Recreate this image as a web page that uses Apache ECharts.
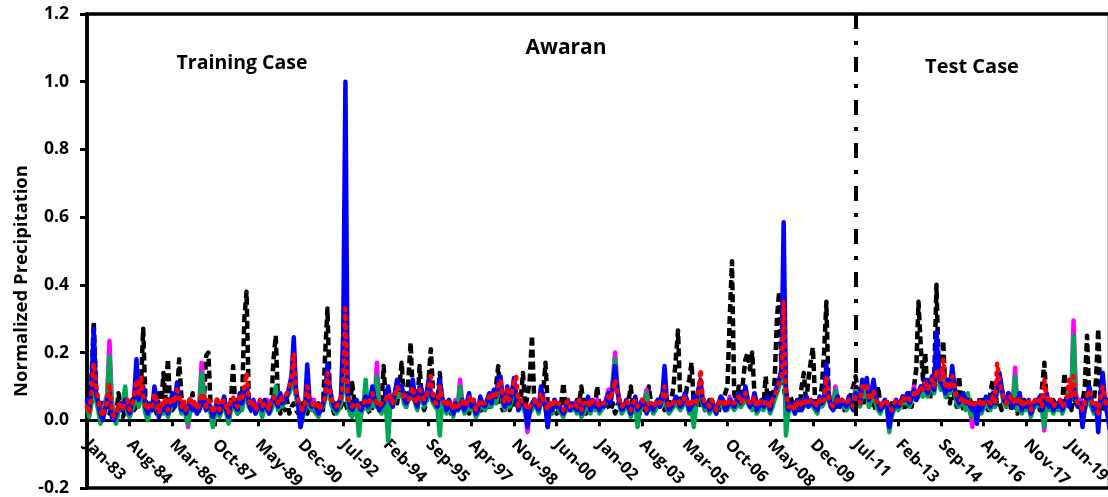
<!DOCTYPE html>
<html>
<head>
<meta charset="utf-8">
<script src="https://cdn.jsdelivr.net/npm/echarts@6/dist/echarts.min.js"></script>
<style>
html,body{margin:0;padding:0;background:#fff;}
#chart{width:1108px;height:497px;}
</style>
</head>
<body>
<div id="chart"></div>
<script>
// ---- tick labels / categories ----
const monthNames = ['Jan','Feb','Mar','Apr','May','Jun','Jul','Aug','Sep','Oct','Nov','Dec'];
const years = ['83','84','85','86','87','88','89','90','91','92','93','94','95','96','97','98','99','00','01','02','03','04','05','06','07','08','09','10','11','12','13','14','15','16','17','18','19','20'];
const yTicks = [-0.2, 0.0, 0.2, 0.4, 0.6, 0.8, 1.0, 1.2];
const splitCategory = 'Jul-11';

// ---- series values (one row per year, Jan..Dec) ----
const observed = [
.05,.03,.12,.29,.10,.04,.02,.06,.03,.05,.02,.04,
.03,.02,.08,.04,.01,.03,.05,.02,.06,.03,.04,.05,
.10,.27,.06,.02,.04,.03,.05,.02,.08,.04,.14,.06,
.18,.05,.03,.04,.06,.18,.07,.03,.02,.05,.04,.08,
.03,.04,.02,.06,.05,.19,.20,.04,.02,.03,.05,.02,
.04,.07,.03,.02,.05,.16,.04,.02,.03,.05,.30,.38,
.06,.03,.02,.04,.05,.03,.02,.06,.04,.03,.05,.18,
.25,.05,.02,.04,.03,.06,.02,.04,.05,.03,.02,.04,
.05,.03,.02,.04,.06,.03,.02,.05,.04,.03,.20,.33,
.08,.04,.02,.05,.03,.04,.06,.05,.03,.04,.11,.05,
.03,.02,.05,.04,.06,.03,.02,.04,.05,.07,.03,.04,
.16,.05,.03,.06,.04,.08,.05,.10,.17,.06,.04,.12,
.23,.07,.05,.04,.16,.06,.03,.05,.12,.21,.08,.04,
.06,.14,.05,.03,.04,.06,.02,.04,.05,.03,.08,.04,
.03,.05,.02,.04,.06,.03,.05,.04,.02,.03,.05,.04,
.06,.08,.10,.16,.05,.03,.04,.06,.03,.05,.04,.07,
.05,.06,.14,.04,.07,.12,.25,.06,.04,.03,.05,.08,
.17,.05,.03,.04,.06,.02,.03,.05,.11,.04,.03,.05,
.04,.03,.06,.05,.10,.04,.02,.03,.04,.05,.03,.10,
.04,.03,.05,.06,.04,.03,.05,.02,.04,.06,.03,.05,
.04,.06,.10,.03,.05,.04,.02,.06,.03,.04,.10,.05,
.03,.05,.04,.06,.08,.03,.05,.04,.06,.10,.18,.265,
.06,.04,.05,.10,.12,.17,.05,.03,.04,.06,.05,.03,
.04,.06,.03,.05,.04,.02,.06,.05,.08,.10,.30,.47,
.08,.05,.10,.04,.12,.18,.20,.15,.20,.08,.05,.04,
.06,.04,.13,.05,.08,.04,.12,.30,.38,.15,.10,.06,
.03,.07,.05,.04,.06,.03,.10,.14,.05,.12,.17,.215,
.06,.04,.05,.10,.20,.35,.08,.04,.06,.05,.03,.04,
.05,.03,.06,.04,.08,.10,.13,.09,.05,.04,.06,.10,
.04,.06,.05,.03,.10,.05,.04,.03,.06,.04,.05,.03,
.06,.04,.05,.07,.03,.05,.08,.04,.10,.15,.35,.22,
.12,.20,.08,.06,.10,.12,.40,.15,.10,.235,.08,.06,
.05,.10,.07,.04,.13,.06,.03,.05,.04,.06,.03,.05,
.04,.03,.06,.05,.04,.03,.08,.12,.04,.06,.05,.03,
.06,.04,.05,.03,.06,.04,.02,.05,.03,.06,.04,.05,
.03,.05,.04,.06,.03,.10,.17,.05,.04,.03,.06,.04,
.05,.03,.06,.14,.05,.04,.03,.08,.05,.04,.06,.05,
.10,.25,.06,.04,.05,.12,.27,.05,.04,.03,.06,.04
];
const modelMagenta = [
.05,.02,.06,.12,.07,.04,.01,.03,.05,.08,.235,.06,
.02,.00,.03,.05,.04,.06,.03,.02,.04,.06,.10,.05,
.10,.07,.03,.01,.04,.03,.06,.05,.02,.04,.03,.05,
.02,.04,.06,.05,.08,.06,.03,.05,.02,-.02,.05,.04,
.04,.03,.05,.17,.08,.04,.05,.03,.01,.03,.05,.02,
.04,.05,.03,.00,.04,.06,.04,.03,.06,.04,.08,.10,
.05,.04,.06,.03,.05,.04,.02,.05,.06,.03,.04,.06,
.07,.04,.06,.05,.07,.08,.09,.12,.18,.08,.05,.03,
.02,.04,.08,.05,.04,.06,.03,.02,.04,.05,.07,.12,
.09,.05,.04,.03,.04,.06,.10,.30,.06,.03,.02,.05,
.04,.03,.02,.04,.06,.04,.05,.06,.05,.17,.04,.03,
.05,.06,-.02,.06,.05,.07,.09,.08,.10,.06,.05,.07,
.08,.10,.06,.04,.09,.08,.05,.07,.10,.08,.06,.05,
.04,.09,.06,.05,.03,.05,.04,.02,.06,.04,.12,.05,
.03,.04,.07,.04,.05,.02,.03,.06,.05,.04,.05,.07,
.05,.08,.06,.10,.11,.06,.04,.09,.05,.07,.11,.08,
.04,.05,.05,.03,-.035,.03,.04,.06,.05,.03,.09,.07,
.05,.03,.04,.03,.06,.05,.04,.03,.02,.04,.05,.04,
.04,.05,.03,.06,.02,.03,.05,.06,.03,.05,.04,.06,
.03,.04,.05,.06,.09,.07,.12,.20,.10,.05,.03,.04,
.05,.04,.02,.05,.06,.03,.04,.05,.06,.09,.04,.05,
.03,.04,.06,.05,.06,.10,.05,.03,.04,.05,.06,.05,
.04,.05,.07,.06,.03,.05,.06,.05,.08,.10,.06,.04,
.05,.03,.05,.04,.03,.05,.06,.05,.04,.04,.07,.05,
.04,.05,.07,.05,.06,.09,.06,.05,.04,.07,.03,.04,
.05,.04,.05,.06,.03,.05,.07,.09,.11,.14,.30,.08,
.03,.04,.05,.03,.05,.06,.04,.05,.06,.05,.06,.05,
.04,.03,.06,.05,.06,.12,.07,.05,.04,.10,.07,.05,
.06,.05,.04,.06,.05,.04,.10,.06,.05,.09,.08,.10,
.05,.07,.09,.06,.04,.03,.05,.06,.04,.03,.02,.04,
.05,.04,.05,.07,.06,.07,.05,.07,.10,.07,.08,.09,
.08,.11,.08,.10,.12,.09,.20,.12,.10,.14,.08,.11,
.09,.13,.10,.06,.05,.06,.07,.04,.05,.03,-.02,.05,
.04,.05,.03,.05,.06,.05,.04,.07,.05,.12,.13,.09,
.06,.05,.08,.07,.05,.155,.04,.08,.03,.05,.04,.06,
.02,.04,.06,.05,.07,.04,-.03,.08,.04,.06,.03,.05,
.04,.05,.03,.05,.06,.10,.07,.295,.08,.05,.06,.02,
.04,.06,.09,.05,.03,.05,.02,.06,.10,.06,.03,.01
];
const modelGreen = [
.04,.01,.05,.08,.06,.03,-.01,.02,.04,.07,.19,.05,
.01,-.01,.03,.04,.05,.10,.02,.01,.03,.05,.08,.04,
.08,.06,.02,.00,.03,.04,.05,.04,.01,.03,.02,.04,
.01,.03,.05,.04,.07,.05,.02,.04,.01,-.01,.04,.03,
.03,.02,.04,.14,.07,.03,.04,.02,-.02,.02,.04,.01,
.03,.04,.02,-.01,.03,.05,.03,.02,.05,.03,.07,.08,
.04,.03,.05,.02,.04,.03,.01,.04,.05,.02,.03,.05,
.10,.03,.05,.04,.06,.07,.08,.10,.12,.07,.04,-.02,
.01,.03,.07,.04,.03,.05,.02,.01,.03,.04,.06,.10,
.08,.04,.03,.02,.03,.05,.09,.25,.05,.02,.01,.04,
.03,-.045,.02,.04,.12,.03,.04,.05,.04,.13,.03,.02,
.04,.05,-.06,.05,.04,.06,.08,.07,.10,.05,.04,.06,
.07,.09,.05,.03,.08,.07,.04,.06,.09,.07,.05,.04,
.03,-.045,.05,.04,.02,.04,.03,.01,.05,.03,.10,.04,
.02,.03,.06,.03,.04,.01,.02,.05,.04,.03,.04,.06,
.04,.07,.05,.09,.10,.05,.03,.08,.04,.06,.10,.07,
.03,.04,.04,.02,.00,.02,.03,.05,.04,.02,.08,.06,
.04,-.02,.03,.02,.05,.04,.03,.02,.01,.03,.04,.03,
.03,.04,.02,.05,.01,.02,.04,.05,.02,.04,.03,.05,
.02,.03,.04,.05,.08,.06,.11,.18,.09,.04,.02,.03,
.04,.03,.01,.04,.05,-.02,.03,.04,.05,.08,.03,.04,
.02,.03,.05,.04,.05,.09,.04,.02,.03,.04,.05,.04,
.03,.04,.06,.05,.02,.04,-.02,.04,.07,.09,.05,.03,
.04,.02,.04,.03,.02,.04,.05,.04,.03,.03,.06,.04,
.03,.04,.06,.04,.05,.08,.05,.04,.03,.06,.02,.03,
.04,.03,.04,.05,.02,.04,.06,.08,.10,.13,.28,-.045,
.02,.03,.04,.02,.04,.05,.03,.04,.05,.04,.05,.04,
.03,.02,.05,.04,.05,.10,.06,.04,.03,.09,.06,.04,
.05,.04,.03,.05,.04,.03,.09,.05,.04,.08,.07,.09,
.04,.06,.08,.05,.03,.02,.04,.05,.03,-.035,.01,.03,
.04,.03,.04,.06,.05,.06,.04,.06,.09,.06,.07,.08,
.07,.10,.07,.09,.11,.08,.18,.11,.09,.12,.07,.10,
.08,.12,.09,.05,.04,.05,.06,.03,.08,.02,.01,.04,
.03,.04,.02,.04,.05,.04,.03,.06,.04,.10,.11,.08,
.05,.04,.07,.06,.04,.13,.03,.07,.02,.04,.03,.05,
.01,.03,.05,.04,.06,.03,-.02,.07,.03,.05,.02,.04,
.03,.04,.02,.04,.05,.09,.06,.25,.07,.04,.05,.01,
.03,.05,.08,.04,.02,.04,.01,.05,.08,.05,.02,.00
];
const modelBlue = [
.06,.03,.10,.27,.08,.05,.02,.00,.03,.06,.08,.01,
.00,.02,.04,.05,.03,.06,.04,.02,.05,.07,.18,.06,
.08,.10,.04,.02,.05,.03,.10,.06,.01,.04,.03,.06,
.02,.05,.08,.04,.11,.07,.03,.05,.02,.04,.06,.03,
.05,.02,.04,.07,.06,.03,.05,.04,.01,.03,.06,.02,
.04,.07,.03,.01,.05,.06,.04,.03,.08,.05,.09,.10,
.05,.03,.06,.02,.04,.05,.03,.06,.04,.02,.05,.07,
.06,.04,.08,.05,.06,.07,.10,.13,.245,.09,.05,-.02,
.02,.04,.165,.06,.04,.05,.04,.02,.03,.05,.08,.165,
.10,.06,.04,.03,.05,.07,.25,1.0,.08,.04,.03,.05,
.06,.04,.03,.05,.07,.04,.06,.10,.06,.05,.03,.04,
.05,.07,.10,.06,.04,.08,.12,.09,.10,.07,.05,.06,
.08,.12,.06,.04,.10,.09,.05,.07,.12,.08,.06,.05,
.04,.12,.07,.05,.03,.06,.04,.02,.05,.03,.04,.06,
.03,.05,.08,.04,.06,.02,.03,.07,.05,.04,.06,.08,
.05,.09,.07,.12,.13,.06,.04,.10,.05,.08,.125,.07,
.03,.06,.05,.04,-.02,.03,.05,.06,.04,.03,.10,.06,
.04,-.02,.05,.03,.06,.04,.05,.03,.02,.04,.06,.03,
.05,.04,.03,.06,.02,.04,.05,.07,.03,.06,.04,.05,
.03,.05,.04,.06,.08,.05,.10,.16,.09,.05,.03,.04,
.06,.04,.02,.05,.07,.03,.04,.06,.05,.02,.04,.05,
.03,.05,.06,.04,.07,.16,.06,.03,.04,.05,.07,.06,
.04,.05,.08,.06,.03,.04,.07,.05,.09,.12,.06,.04,
.05,.03,.06,.04,.02,.05,.07,.06,.03,.04,.06,.05,
.04,.06,.08,.05,.07,.10,.06,.04,.05,.08,.03,.04,
.06,.04,.05,.07,.03,.06,.08,.10,.12,.15,.585,.10,
.03,.04,.05,.02,.04,.06,.03,.05,.07,.04,.06,.05,
.04,.03,.07,.05,.06,.165,.08,.04,.03,.05,.07,.04,
.06,.05,.04,.07,.05,.03,.08,.06,.05,.12,.10,.125,
.06,.08,.12,.07,.05,.03,.04,.06,.05,-.02,.02,.04,
.06,.04,.05,.07,.06,.08,.05,.07,.09,.06,.08,.10,
.09,.12,.08,.10,.13,.09,.26,.14,.11,.10,.08,.12,
.09,.16,.10,.07,.05,.06,.08,.05,.06,.04,.03,.05,
-.01,.06,.03,.05,.07,.06,.04,.08,.05,.09,.14,.10,
.06,.05,.08,.07,.04,.06,.05,.08,.03,.05,.04,.06,
.02,.04,.06,.05,.07,.03,.05,.08,.04,.06,.03,.05,
.04,.06,.03,.05,.07,.04,.08,.10,.06,.04,.05,-.02,
.04,.07,.10,.06,.03,.05,-.035,.08,.14,.05,.02,-.025
];
const modelRed = [
.04,.02,.08,.17,.10,.06,.03,.01,.04,.05,.11,.03,
.01,.02,.05,.04,.03,.05,.06,.03,.04,.08,.12,.07,
.13,.07,.04,.03,.05,.04,.08,.06,.02,.05,.04,.07,
.03,.06,.07,.05,.09,.08,.04,.06,.03,.05,.07,.04,
.06,.03,.05,.08,.07,.04,.06,.05,.02,.04,.07,.03,
.05,.06,.04,.02,.06,.07,.05,.04,.07,.06,.10,.14,
.06,.04,.05,.03,.05,.06,.04,.05,.05,.03,.06,.07,
.05,.05,.07,.06,.07,.08,.10,.12,.20,.09,.06,.04,
.03,.05,.10,.06,.05,.04,.05,.03,.04,.05,.07,.14,
.09,.06,.05,.04,.05,.07,.12,.33,.07,.05,.04,.05,
.05,.04,.04,.05,.06,.05,.06,.08,.06,.05,.04,.05,
.05,.06,.08,.07,.05,.07,.10,.09,.08,.07,.06,.06,
.07,.10,.06,.05,.09,.08,.06,.07,.10,.13,.07,.05,
.05,.10,.07,.05,.04,.06,.05,.03,.05,.04,.05,.06,
.04,.05,.07,.05,.06,.03,.04,.06,.05,.05,.06,.07,
.06,.08,.07,.10,.12,.07,.05,.09,.06,.08,.12,.13,
.04,.06,.05,.05,.03,.04,.05,.06,.05,.04,.08,.06,
.05,.03,.05,.04,.06,.05,.05,.04,.03,.05,.06,.04,
.05,.05,.04,.06,.03,.05,.05,.06,.04,.06,.05,.05,
.04,.05,.05,.06,.07,.06,.09,.12,.08,.06,.04,.05,
.06,.05,.03,.05,.06,.04,.05,.06,.05,.03,.05,.05,
.04,.05,.06,.05,.06,.10,.06,.04,.05,.05,.06,.06,
.05,.05,.07,.06,.04,.05,.06,.05,.08,.15,.07,.05,
.05,.04,.06,.05,.03,.05,.06,.06,.04,.05,.06,.05,
.05,.06,.07,.05,.06,.08,.06,.05,.05,.07,.04,.05,
.06,.05,.05,.06,.04,.06,.07,.09,.11,.13,.35,.09,
.04,.04,.05,.03,.05,.06,.04,.05,.06,.05,.06,.05,
.05,.04,.06,.05,.06,.13,.07,.05,.04,.05,.06,.05,
.06,.05,.05,.06,.05,.04,.07,.06,.05,.10,.09,.10,
.06,.07,.09,.06,.05,.04,.05,.06,.05,.04,.03,.05,
.06,.05,.05,.07,.06,.07,.06,.07,.08,.07,.09,.10,
.09,.11,.09,.10,.12,.10,.15,.13,.12,.18,.10,.11,
.09,.13,.10,.07,.06,.06,.07,.05,.06,.05,.04,.05,
.05,.06,.04,.05,.06,.06,.05,.07,.05,.17,.12,.09,
.06,.05,.07,.07,.05,.06,.05,.07,.04,.05,.05,.06,
.03,.05,.06,.05,.06,.04,.12,.07,.05,.06,.04,.05,
.05,.06,.04,.05,.06,.12,.07,.13,.06,.05,.05,.03,
.05,.07,.09,.06,.04,.05,.02,.07,.10,.06,.04,.03
];

// ---- build categories ----
const categories = [];
years.forEach(y => monthNames.forEach(m => categories.push(m + '-' + y)));

const FONT = '"Open Sans"';
const GRID_TOP = 14, GRID_BOTTOM = 9, CHART_H = 497;
const plotH = CHART_H - GRID_TOP - GRID_BOTTOM;
const yMin = yTicks[0], yMax = yTicks[yTicks.length - 1];
// shift the x axis (line, ticks, labels) from the grid bottom up to y = 0
const zeroOffset = -plotH * (0 - yMin) / (yMax - yMin);

const chart = echarts.init(document.getElementById('chart'), null, {renderer: 'canvas'});

function lineSeries(name, data, color, type, width, cap) {
  return {
    name: name, type: 'line', data: data, symbol: 'none', showSymbol: false,
    lineStyle: {color: color, width: width, type: type, cap: cap || 'round', join: 'round'},
    itemStyle: {color: color}, z: 2, animation: false
  };
}

const option = {
  animation: false,
  backgroundColor: '#ffffff',
  grid: {left: 87, top: GRID_TOP, bottom: GRID_BOTTOM, right: -1.5, containLabel: false, outerBoundsMode: 'none',
    show: true, borderColor: '#000', borderWidth: 3.5, backgroundColor: 'transparent'},
  xAxis: {
    type: 'category', data: categories, boundaryGap: false, offset: zeroOffset,
    axisLine: {onZero: false, lineStyle: {color: '#000', width: 3}},
    axisTick: {show: true, interval: 18, length: 6, lineStyle: {color: '#000', width: 3}},
    axisLabel: {interval: 18, rotate: -45, margin: 22, color: '#000', fontFamily: FONT, fontWeight: 'bold', fontSize: 16.5},
    splitLine: {show: false}
  },
  yAxis: {
    type: 'value', min: yMin, max: yMax, interval: 0.2,
    axisLine: {show: true, lineStyle: {color: '#000', width: 3.5}},
    axisTick: {show: true, length: 7, lineStyle: {color: '#000', width: 3}},
    axisLabel: {margin: 18, color: '#000', fontFamily: FONT, fontWeight: 'bold', fontSize: 17.5,
      formatter: v => v.toFixed(1)},
    splitLine: {show: false}
  },
  graphic: [
    {type: 'text', style: {text: 'Awaran', x: 566, y: 48, align: 'center', verticalAlign: 'middle', font: 'bold 21px ' + FONT, fill: '#000'}},
    {type: 'text', style: {text: 'Training Case', x: 242, y: 63, align: 'center', verticalAlign: 'middle', font: 'bold 19.5px ' + FONT, fill: '#000'}},
    {type: 'text', style: {text: 'Test Case', x: 972, y: 67, align: 'center', verticalAlign: 'middle', font: 'bold 20px ' + FONT, fill: '#000'}},
    {type: 'text', x: 22, y: 281, rotation: Math.PI / 2, style: {text: 'Normalized Precipitation', x: 0, y: 0, align: 'center', verticalAlign: 'middle', font: 'bold 18.5px ' + FONT, fill: '#000'}}
  ],
  series: [
    Object.assign(lineSeries('Observed', observed, '#000000', [8, 4], 4.5, 'butt'), {
      markLine: {
        silent: true, symbol: 'none', animation: false,
        label: {show: false},
        lineStyle: {color: '#000', width: 4, type: [15, 12, 4, 12], cap: 'butt'},
        data: [[{coord: [splitCategory, yMax]}, {coord: [splitCategory, 0]}]]
      }
    }),
    lineSeries('Model 1', modelMagenta, '#ff00ff', 'solid', 4.5),
    lineSeries('Model 2', modelGreen, '#00a651', 'solid', 4.5),
    lineSeries('Model 3', modelBlue, '#0000ff', 'solid', 4.5),
    lineSeries('Model 4', modelRed, '#ff0000', [2, 7], 4.5)
  ]
};
chart.setOption(option);
</script>
</body>
</html>
